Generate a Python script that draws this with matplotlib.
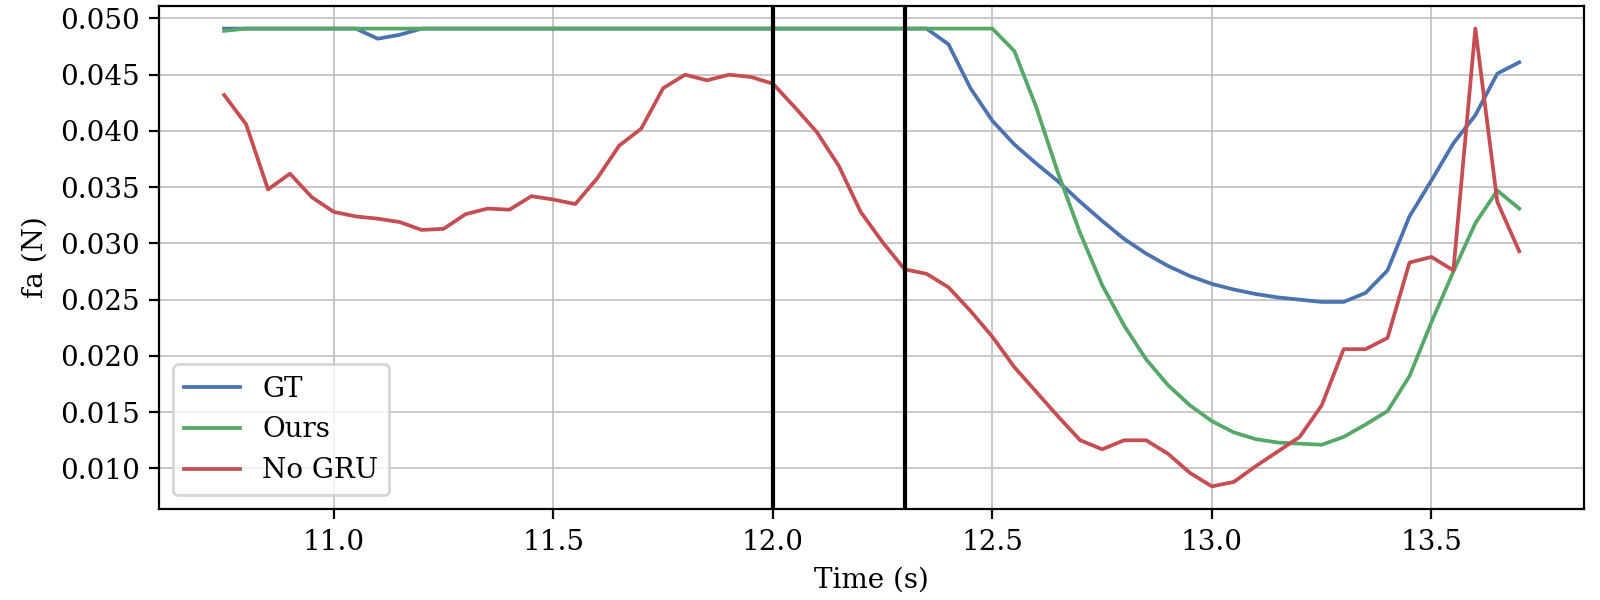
import matplotlib
matplotlib.use("Agg")
import matplotlib.pyplot as plt

plt.rcParams["font.family"] = ["DejaVu Serif"]
plt.rcParams["font.size"] = 10

# time stamps (s)
time_s = [
    10.75, 10.80, 10.85, 10.90, 10.95, 11.00, 11.05, 11.10, 11.15, 11.20,
    11.25, 11.30, 11.35, 11.40, 11.45, 11.50, 11.55, 11.60, 11.65, 11.70,
    11.75, 11.80, 11.85, 11.90, 11.95, 12.00, 12.05, 12.10, 12.15, 12.20,
    12.25, 12.30, 12.35, 12.40, 12.45, 12.50, 12.55, 12.60, 12.65, 12.70,
    12.75, 12.80, 12.85, 12.90, 12.95, 13.00, 13.05, 13.10, 13.15, 13.20,
    13.25, 13.30, 13.35, 13.40, 13.45, 13.50, 13.55, 13.60, 13.65, 13.70,
]

gt = [
    0.0491, 0.0491, 0.0491, 0.0491, 0.0491, 0.0491, 0.0491, 0.0482, 0.04855, 0.0491,
    0.0491, 0.0491, 0.0491, 0.0491, 0.0491, 0.0491, 0.0491, 0.0491, 0.0491, 0.0491,
    0.0491, 0.0491, 0.0491, 0.0491, 0.0491, 0.0491, 0.0491, 0.0491, 0.0491, 0.0491,
    0.0491, 0.0491, 0.0491, 0.0477, 0.0438, 0.0409, 0.0388, 0.0371, 0.0355, 0.0337,
    0.0320, 0.0304, 0.0291, 0.0280, 0.0271, 0.0264, 0.0259, 0.0255, 0.0252, 0.0250,
    0.0248, 0.0248, 0.0256, 0.0276, 0.0324, 0.0356, 0.0389, 0.0414, 0.0451, 0.0461,
]

ours = [
    0.0489, 0.0491, 0.0491, 0.0491, 0.0491, 0.0491, 0.0491, 0.0491, 0.0491, 0.0491,
    0.0491, 0.0491, 0.0491, 0.0491, 0.0491, 0.0491, 0.0491, 0.0491, 0.0491, 0.0491,
    0.0491, 0.0491, 0.0491, 0.0491, 0.0491, 0.0491, 0.0491, 0.0491, 0.0491, 0.0491,
    0.0491, 0.0491, 0.0491, 0.0491, 0.0491, 0.0491, 0.0471, 0.0421, 0.0362, 0.0309,
    0.0263, 0.0227, 0.0197, 0.0174, 0.0156, 0.0142, 0.0132, 0.0126, 0.0123, 0.0122,
    0.0121, 0.0128, 0.0139, 0.0151, 0.0182, 0.0230, 0.0275, 0.0318, 0.0347, 0.0331,
]

no_gru = [
    0.0432, 0.0406, 0.0348, 0.0362, 0.0341, 0.0328, 0.0324, 0.0322, 0.0319, 0.0312,
    0.0313, 0.0326, 0.0331, 0.0330, 0.0342, 0.0339, 0.0335, 0.0358, 0.0387, 0.0402,
    0.0438, 0.0450, 0.0445, 0.0450, 0.0448, 0.0442, 0.0421, 0.0399, 0.0369, 0.0328,
    0.0301, 0.0277, 0.0273, 0.0261, 0.0240, 0.0217, 0.0190, 0.0168, 0.0146, 0.0125,
    0.0117, 0.0125, 0.0125, 0.0113, 0.0096, 0.0084, 0.0088, 0.0102, 0.0115, 0.0128,
    0.0156, 0.0206, 0.0206, 0.0216, 0.0283, 0.0288, 0.0276, 0.0491, 0.0337, 0.0293,
]

# window markers
window_lines = [12.0, 12.3]

fig, ax = plt.subplots(figsize=(8, 3), dpi=200)
ax.plot(time_s, gt, color="#4C72B0", linewidth=1.35, label="GT")
ax.plot(time_s, ours, color="#55A868", linewidth=1.35, label="Ours")
ax.plot(time_s, no_gru, color="#C44E52", linewidth=1.35, label="No GRU")
for xv in window_lines:
    ax.axvline(xv, color="black", linewidth=1.5)

ax.grid(True, color="#bfbfbf", linewidth=0.6)
ax.set_xlabel("Time (s)")
ax.set_ylabel("fa (N)")
ax.legend(loc="lower left")

fig.subplots_adjust(left=0.0996, right=0.99, top=0.9905, bottom=0.1512)
fig.savefig("out.png", dpi=200)
